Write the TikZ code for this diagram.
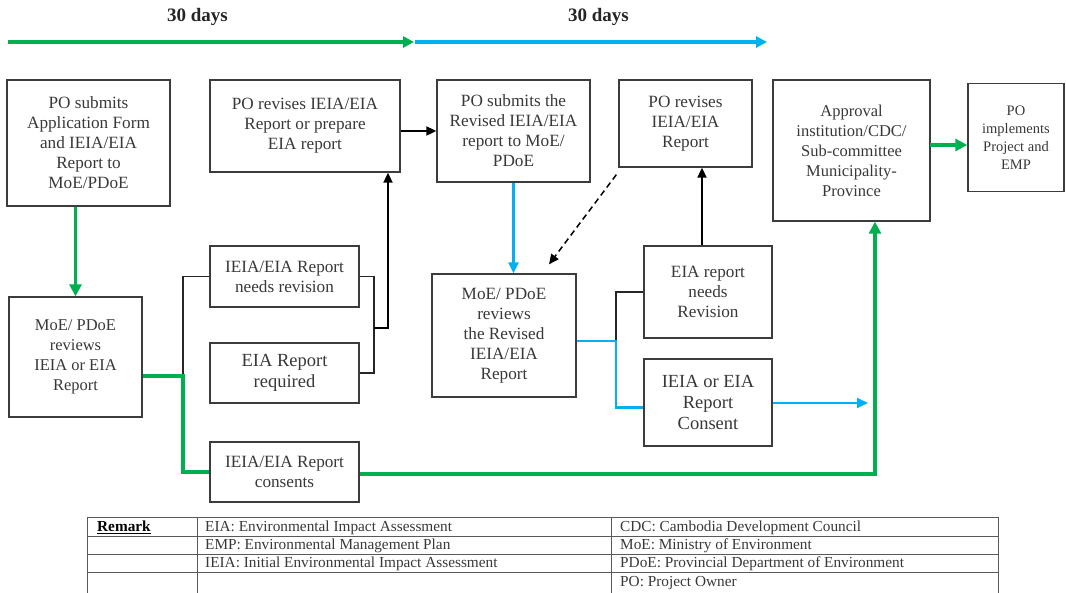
\documentclass[tikz,border=0pt]{standalone}
\usepackage{fontspec}
\setmainfont{Liberation Serif}
\usetikzlibrary{arrows.meta,calc}
\definecolor{grn}{HTML}{00B050}
\definecolor{blu}{HTML}{00B0F0}
\definecolor{txt}{HTML}{383838}
\definecolor{edge}{HTML}{3C3C3C}
\begin{document}
\begin{tikzpicture}[x=1pt,y=-1pt,
  box/.style={draw=edge, line width=1.3pt, text=txt, align=center, inner sep=0pt,
    font=\fontsize{17.2}{20}\selectfont},
  sz/.style 2 args={minimum width=#1pt, minimum height=#2pt},
  big/.style={font=\fontsize{18.5}{21}\selectfont},
  small/.style={font=\fontsize{16.5}{20}\selectfont},
  gtip/.style={-{Triangle[length=12pt,width=12pt]}},
  ktip/.style={-{Triangle[length=10pt,width=9pt]}},
  btip/.style={-{Triangle[length=11pt,width=10pt]}},
  gline/.style={draw=grn, line width=3.6pt},
  bline/.style={draw=blu, line width=2.6pt},
  kline/.style={draw=black, line width=1.8pt},
  thinline/.style={draw=black!85, line width=1.1pt},
  tabline/.style={draw=black!65, line width=1pt},
  tabtext/.style={anchor=west, text=txt, inner sep=0pt, font=\fontsize{15.3}{17}\selectfont},
  daylabel/.style={font=\bfseries\fontsize{19}{22}\selectfont, text=black!85}
]
\useasboundingbox (0,0) rectangle (1066,592);

% timeline
\node[daylabel] (d1) at (197.5,17) {30 days};
\node[daylabel] (d2) at (598.5,17) {30 days};
\coordinate (t0) at (8,42);
\coordinate (t1) at (414,42);
\coordinate (t2) at (767,42);
\draw[gline, line width=3.4pt, -{Triangle[length=11pt,width=11pt]}] (t0) -- (t1);
\draw[bline, line width=3.4pt, -{Triangle[length=11pt,width=11pt]}] ($(t1)+(1,0)$) -- (t2);

% boxes
\node[box, sz={163}{126}] (b1) at (88.5,143) {PO submits\\Application Form\\and IEIA/EIA\\Report to\\MoE/PDoE};
\node[box, sz={190}{92}] (b2) at (305,126) {PO revises IEIA/EIA\\Report or prepare\\EIA report};
\node[box, small, sz={133}{120}] (b3) at (75.5,357) {MoE/ PDoE\\reviews\\IEIA or EIA\\Report};
\node[box, sz={149}{61}] (b4) at (284.5,276.5) {IEIA/EIA Report\\needs revision};
\node[box, big, sz={149}{60}] (b5) at (284.5,373) {EIA Report\\required};
\node[box, sz={149}{60}] (b6) at (284.5,472) {IEIA/EIA Report\\consents};
\node[box, sz={153}{102}] (b7) at (513.5,131) {PO submits the\\Revised IEIA/EIA\\report to MoE/\\PDoE};
\node[box, sz={133}{87}] (b8) at (685.5,123.5) {PO revises\\IEIA/EIA\\Report};
\node[box, sz={144}{123}] (b9) at (504,335.5) {MoE/ PDoE\\reviews\\the Revised\\IEIA/EIA\\Report};
\node[box, sz={128}{92}] (b10) at (708,292) {EIA report\\needs\\Revision};
\node[box, big, sz={128}{87}] (b11) at (708,402.5) {IEIA or EIA\\Report\\Consent};
\node[box, small, sz={157}{141}] (b12) at (851.5,150.5) {Approval\\institution/CDC/\\Sub-committee\\Municipality-\\Province};
\node[box, sz={96}{108}, font=\fontsize{14.5}{18}\selectfont] (b13) at (1016,137.5) {PO\\implements\\Project and\\EMP};

% connectors
\draw[gline, gtip] (b3.north |- b1.south) -- (b3.north);
\coordinate (j1) at (183,376);
\draw[thinline] (j1) |- (b4.west);
\draw[gline] (b3.east |- j1) -- (j1) |- (b6.west);
\coordinate (k) at (374,328);
\coordinate (k2) at (388,328);
\draw[thinline] (b4.east) -| (k) |- (b5.east);
\draw[kline, ktip] (k) -- (k2) -- (k2 |- b2.south);
\draw[kline, ktip] (b2.east |- b7.west) -- (b7.west);
\draw[bline, btip] (b7.south) -- (b7.south |- b9.north);
\coordinate (ds) at ($(b8.south west)+(-2,7)$);
\coordinate (de) at ($(b9.north)+(45,-9)$);
\draw[kline, line width=1.5pt, dash pattern=on 6pt off 4pt, ktip] (ds) -- (de);
\coordinate (u) at ($(b10.north)+(-6,0)$);
\draw[kline, ktip] (u) -- (u |- b8.south);
\coordinate (m) at (616,341);
\draw[thinline] (m) |- (b10.west);
\draw[bline] (b9.east |- m) -- (m) |- ($(b11.west)+(0,5)$);
\coordinate (bend) at (868,403);
\draw[bline, line width=2.2pt, btip] (b11.east |- bend) -- (bend);
\coordinate (g) at ($(b12.south)+(23.5,0)$);
\draw[gline, gtip] ($(b6.east)+(0,2)$) -| (g);
\coordinate (g2) at (930,145);
\draw[gline, gtip] (g2) -- (g2 -| b13.west);

% remark table
\draw[tabline] (87,517) -- (998,517);
\draw[tabline] (87,536) -- (998,536);
\draw[tabline] (87,554) -- (998,554);
\draw[tabline] (87,572) -- (998,572);
\draw[tabline] (87,517) -- (87,593);
\draw[tabline] (197,517) -- (197,593);
\draw[tabline] (611,517) -- (611,593);
\draw[tabline] (998,517) -- (998,593);
\node[tabtext, text=black, font=\bfseries\fontsize{15.3}{17}\selectfont] (r0) at (97,527.5) {\underline{Remark}};
\node[tabtext] (r1) at (205,527.5) {EIA: Environmental Impact Assessment};
\node[tabtext] (r2) at (205,546) {EMP: Environmental Management Plan};
\node[tabtext] (r3) at (205,564) {IEIA: Initial Environmental Impact Assessment};
\node[tabtext] (r4) at (620,527.5) {CDC: Cambodia Development Council};
\node[tabtext] (r5) at (620,546) {MoE: Ministry of Environment};
\node[tabtext] (r6) at (620,564) {PDoE: Provincial Department of Environment};
\node[tabtext] (r7) at (620,583) {PO: Project Owner};
\end{tikzpicture}
\end{document}
